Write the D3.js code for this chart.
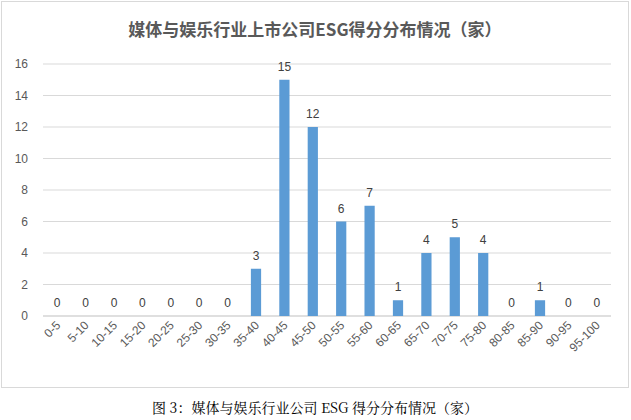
<!DOCTYPE html>
<html><head><meta charset="utf-8">
<script src="https://cdn.jsdelivr.net/npm/d3@7"></script>
<style>body{margin:0;background:#fff}</style>
</head><body>
<svg id="c" width="631" height="420"></svg>
<script>
const categories=["0-5","5-10","10-15","15-20","20-25","25-30","30-35","35-40","40-45","45-50","50-55","55-60","60-65","65-70","70-75","75-80","80-85","85-90","90-95","95-100"];
const counts=[0,0,0,0,0,0,0,3,15,12,6,7,1,4,5,4,0,1,0,0];
const yTicks=[0,2,4,6,8,10,12,14,16];
const title="媒体与娱乐行业上市公司ESG得分分布情况（家）";
const caption="图 3：媒体与娱乐行业公司 ESG 得分分布情况（家）";

const svg=d3.select("#c");
svg.append("rect").attr("x",1.5).attr("y",1.5).attr("width",627).attr("height",386).attr("fill","#fff").attr("stroke","#d9d9d9");
const x=d3.scaleBand().domain(categories).range([43,611]).paddingInner(0.64).paddingOuter(0.32);
const y=d3.scaleLinear().domain([0,16]).range([316,64]);
svg.append("g").selectAll("line").data(yTicks).join("line")
 .attr("x1",43).attr("x2",611).attr("y1",d=>y(d)).attr("y2",d=>y(d))
 .attr("stroke",d=>d===0?"#bfbfbf":"#d9d9d9");
svg.append("g").selectAll("text").data(yTicks).join("text")
 .attr("x",28).attr("y",d=>y(d)+4).attr("text-anchor","end")
 .attr("font-family","Liberation Sans, Arial").attr("font-size",12).attr("fill","#595959").text(d=>d);
svg.append("g").selectAll("rect").data(counts).join("rect")
 .attr("x",(d,i)=>x(categories[i])).attr("width",x.bandwidth())
 .attr("y",d=>y(d)).attr("height",d=>y(0)-y(d)).attr("fill","#5b9bd5");
svg.append("g").selectAll("text").data(counts).join("text")
 .attr("x",(d,i)=>x(categories[i])+x.bandwidth()/2).attr("y",d=>y(d)-9)
 .attr("text-anchor","middle").attr("font-family","Liberation Sans, Arial").attr("font-size",12).attr("fill","#404040").text(d=>d);
svg.append("g").selectAll("text").data(categories).join("text")
 .attr("transform",c=>`translate(${x(c)+x.bandwidth()/2+4},${326}) rotate(-45)`)
 .attr("text-anchor","end").attr("font-family","Liberation Sans, Arial").attr("font-size",12).attr("fill","#595959").text(c=>c);
svg.append("text").attr("x",315).attr("y",36).attr("text-anchor","middle")
 .attr("font-family","Noto Sans CJK SC").attr("font-weight","bold").attr("font-size",17).attr("fill","#595959").text(title);
svg.append("text").attr("x",315).attr("y",413).attr("text-anchor","middle")
 .attr("font-family","Noto Serif CJK SC, Noto Sans CJK SC").attr("font-size",14).attr("fill","#000").text(caption);
</script>
</body></html>
